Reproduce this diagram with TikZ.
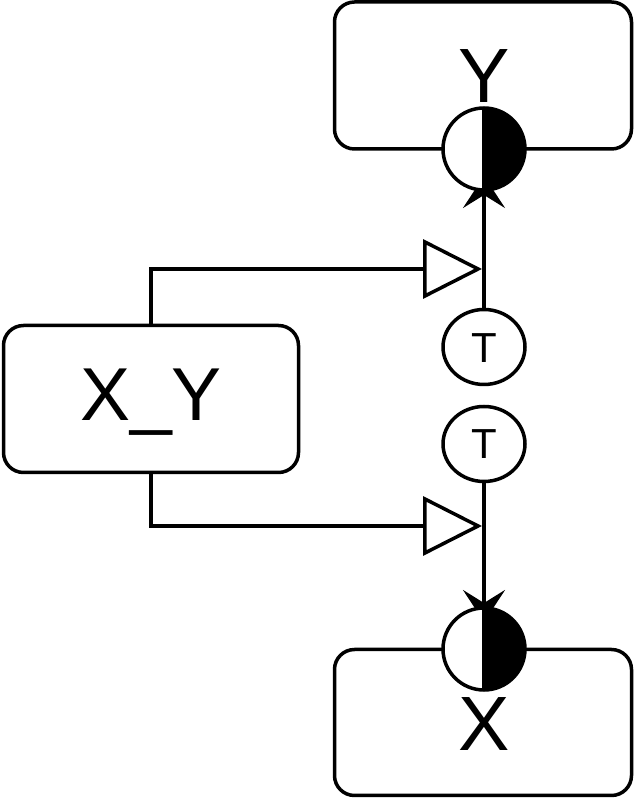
\documentclass[tikz,border=0pt]{standalone}
\usepackage{fontspec}
\setmainfont{Liberation Sans}
\usetikzlibrary{arrows.meta,shapes.geometric}
\pgfdeclarelayer{bg}
\pgfsetlayers{bg,main}
\begin{document}
\begin{tikzpicture}[x=1pt,y=1pt,line width=3.5pt,
  boxstyle/.style={draw,line width=3.5pt,rounded corners=20pt,fill=white,inner sep=0pt},
  halfcirc/.style={draw,line width=3.5pt,circle,fill=white,inner sep=0pt,minimum size=82pt,
    path picture={\fill[black] (path picture bounding box.north) rectangle (path picture bounding box.south east);
      \draw[line width=3.5pt] (path picture bounding box.north) -- (path picture bounding box.south);}},
  tcirc/.style={draw,line width=3.5pt,ellipse,fill=white,inner sep=0pt,minimum width=82pt,minimum height=75pt},
  bigtext/.style={inner sep=0pt,anchor=base,font=\fontsize{77}{80}\selectfont},
  ttext/.style={inner sep=0pt,anchor=base,font=\fontsize{42}{44}\selectfont},
  openarr/.style={line width=3.5pt,-{Triangle[open,length=59pt,width=59pt]}},
  stealtharr/.style={line width=3.5pt,-{Stealth[length=32pt,width=42pt,inset=13pt]}}
]
\useasboundingbox (0,0) rectangle (635,800);
\node[boxstyle,minimum width=297pt,minimum height=147pt] (ybox) at (483,724.5) {};
\node[boxstyle,minimum width=295pt,minimum height=147pt] (xybox) at (151,401) {};
\node[boxstyle,minimum width=297pt,minimum height=146pt] (xbox) at (483,77.5) {};
\node[halfcirc] (yc) at (484,651) {};
\node[halfcirc] (xc) at (484,151) {};
\node[tcirc] (t1) at (484,453) {};
\node[tcirc] (t2) at (484,356) {};
\node[bigtext] (ylab) at (484,697) {Y};
\node[bigtext] (xlab) at (484,49) {X};
\node[bigtext,font=\fontsize{75}{78}\selectfont] (xylab) at (151,379) {X\_Y};
\node[ttext] (t1lab) at (484,437) {T};
\node[ttext] (t2lab) at (484,341) {T};
\coordinate (tipY) at (484,624);
\coordinate (tipX) at (484,178);
\coordinate (tri1) at (482,531);
\coordinate (tri2) at (482,274);
\begin{pgfonlayer}{bg}
\draw[stealtharr] (t1.north) -- (tipY);
\draw[stealtharr] (t2.south) -- (tipX);
\end{pgfonlayer}
\draw[openarr] (xybox.north) |- (tri1);
\draw[openarr] (xybox.south) |- (tri2);
\end{tikzpicture}
\end{document}
